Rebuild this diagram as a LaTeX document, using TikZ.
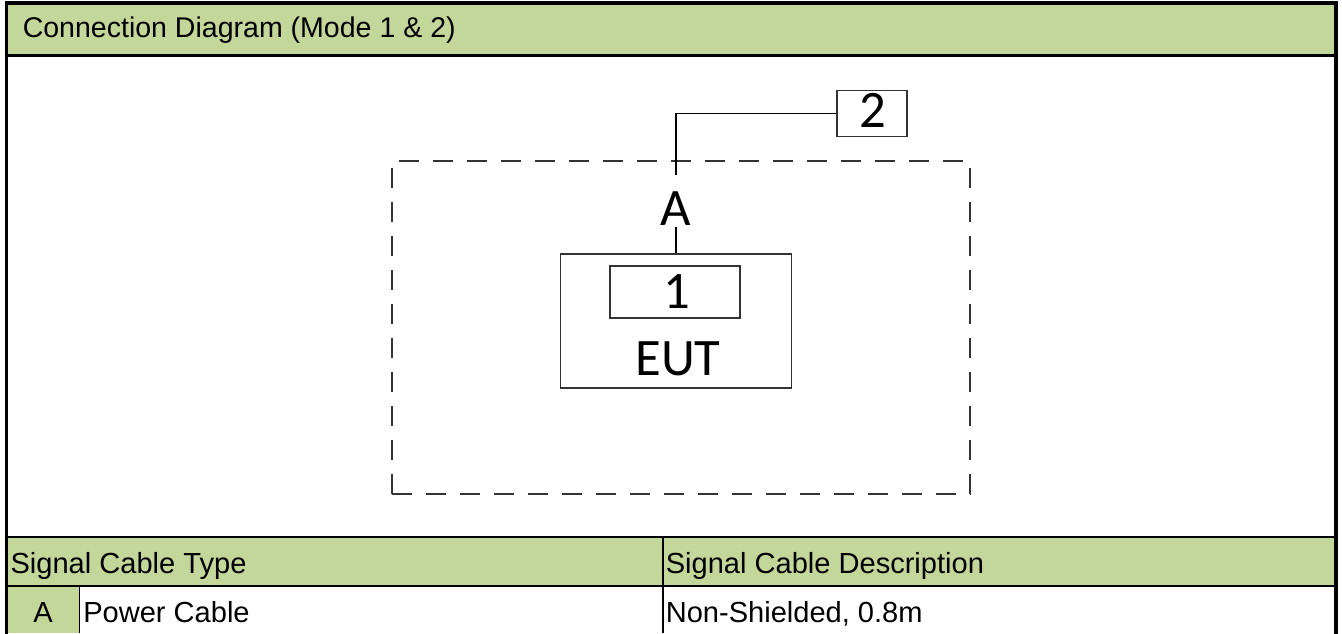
\documentclass[tikz,border=0pt]{standalone}
\usepackage{fontspec}
\setmainfont{Liberation Sans}
\newfontfamily\calibrifont{Carlito}
\definecolor{hdrgreen}{HTML}{C4D79B}
\definecolor{linegray}{HTML}{333333}
\begin{document}
\begin{tikzpicture}[x=0.75pt,y=-0.75pt,
  framethick/.style={line width=2.4pt,black},
  framemid/.style={line width=1.9pt,black},
  framethin/.style={line width=1.1pt,black},
  tabtext/.style={font=\fontsize{21.8pt}{24pt}\selectfont,inner sep=0pt},
  titletext/.style={font=\fontsize{21.4pt}{24pt}\selectfont,inner sep=0pt},
  dtext/.style={font=\calibrifont\fontsize{39.5pt}{42pt}\selectfont,inner sep=0pt},
  boxstyle/.style={draw=linegray,line width=1.25pt,rectangle,inner sep=0pt},
  boxlabel/.style={font=\calibrifont\fontsize{39.5pt}{42pt}\selectfont,inner sep=0pt,anchor=base},
  wire/.style={draw=black,line width=1.2pt},
  encl/.style={draw=linegray,line width=1.2pt,dash pattern=on 15pt off 10.5pt,
    rectangle,inner sep=0pt}
]
\useasboundingbox (0,0) rectangle (1342,633);
% header band and table fills
\fill[hdrgreen] (6.5,3) rectangle (1336,55.5);
\fill[hdrgreen] (6.5,537) rectangle (1336,586);
\fill[hdrgreen] (6.5,586) rectangle (79.5,633);
% frame and table lines
\draw[framethin] (6.5,586) -- (1336,586);
\draw[framethin] (663,537) -- (663,633);
\draw[framethin] (79.5,586) -- (79.5,633);
\draw[framemid] (6.5,537) -- (1336,537);
\draw[framethick] (6.5,55.5) -- (1336,55.5);
\draw[framethick] (6.5,634) -- (6.5,3) -- (1336,3) -- (1336,634);
% texts
\node[titletext,anchor=base west] (title) at (22.5,37.5) {Connection Diagram (Mode 1 \& 2)};
\node[tabtext,anchor=base west] (colA) at (10.3,573) {Signal Cable Type};
\node[tabtext,anchor=base west] (colB) at (665.5,573) {Signal Cable Description};
\node[tabtext,anchor=base] (rowA) at (43,622) {A};
\node[tabtext,anchor=base west] (rowAtype) at (83,622) {Power Cable};
\node[tabtext,anchor=base west] (rowAdesc) at (665.5,622) {Non-Shielded, 0.8m};
% diagram
\node[encl,minimum width=433.5pt,minimum height=249.75pt] (enclosure) at (681,327.5) {};
\node[boxstyle,minimum width=52.5pt,minimum height=34.5pt] (box2) at (872,113.5) {};
\node[boxlabel] (box2text) at (872.5,127.5) {2};
\node[boxstyle,minimum width=173.25pt,minimum height=100.5pt] (eut) at (676,321) {};
\node[boxstyle,minimum width=97.5pt,minimum height=39pt] (box1) at (675,292) {};
\node[boxlabel] (box1text) at (676.5,308.5) {1};
\node[boxlabel] (euttext) at (678,375.5) {EUT};
\node[dtext,anchor=base,inner sep=0.75pt] (cableA) at (676,225.5) {A};
\coordinate (Aup) at (676,175);
\draw[wire] (box2.west) -| (Aup);
\draw[wire] (cableA.south) -- (cableA.south |- eut.north);
\end{tikzpicture}
\end{document}
